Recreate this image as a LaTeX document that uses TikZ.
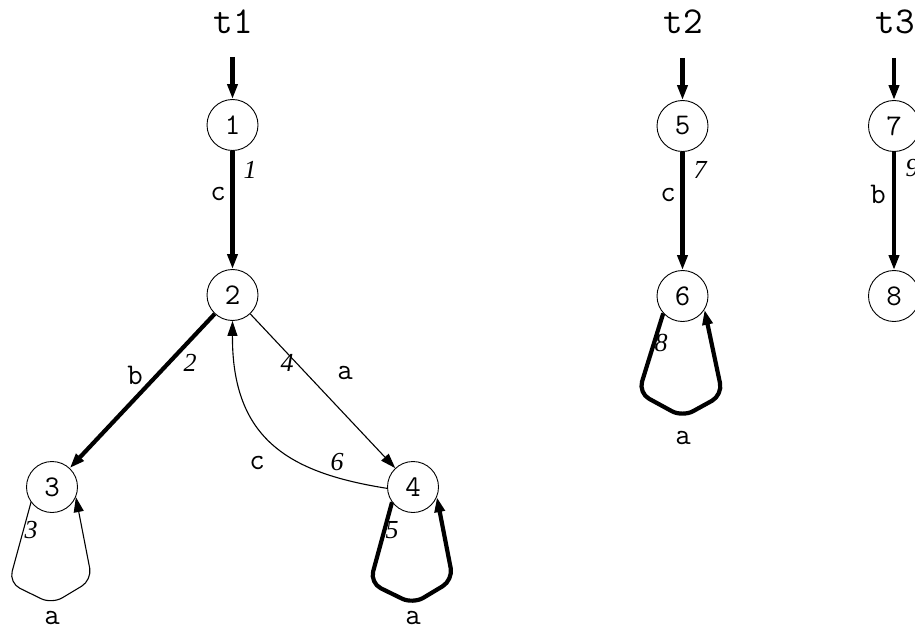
\documentclass[tikz,border=0pt]{standalone}
\usepackage{fontspec}
\setmainfont{Liberation Serif}
\usetikzlibrary{arrows.meta,calc}
\tikzset{
  state/.style={circle, draw, line width=0.9pt, minimum size=51pt, inner sep=0pt, font=\fontsize{30}{30}\selectfont\ttfamily},
  title/.style={font=\fontsize{38}{38}\selectfont\ttfamily},
  sym/.style={inner sep=1pt, font=\fontsize{30}{30}\selectfont\ttfamily},
  num/.style={inner sep=1pt, font=\fontsize{26}{26}\selectfont\itshape},
  tip/.style={-{Triangle[length=15pt,width=10pt]}},
  thickedge/.style={tip, line width=4.2pt},
  thinedge/.style={tip, line width=1.1pt},
}
\begin{document}
\begin{tikzpicture}[x=1pt,y=-1pt]
\useasboundingbox (0,0) rectangle (915,631);
\clip (0,0) rectangle (915,631);
% titles
\node[title] (t1) at (233,22) {t1};
\node[title] (t2) at (683,22) {t2};
\node[title] (t3) at (895,22) {t3};
% states
\node[state] (n1) at (232.5,125) {1};
\node[state] (n2) at (232.5,295) {2};
\node[state] (n3) at (52,487) {3};
\node[state] (n4) at (413,487) {4};
\node[state] (n5) at (682.5,126) {5};
\node[state] (n6) at (682.5,296) {6};
\node[state] (n7) at (894,126) {7};
\node[state] (n8) at (894,296) {8};
% initial arrows
\coordinate (i1) at (232.5,57);
\coordinate (i5) at (682.5,58);
\coordinate (i7) at (894,58);
\draw[thickedge] (i1) -- (n1);
\draw[thickedge] (i5) -- (n5);
\draw[thickedge] (i7) -- (n7);
% tree t1
\draw[thickedge] (n1) -- (n2);
\node[sym] (l12) at (218,194) {c};
\node[num] (k12) at (250,170) {1};
\draw[thickedge] (n2) -- (n3);
\node[sym] (l23) at (135,375) {b};
\node[num] (k23) at (190,363) {2};
\draw[thinedge] (n2) -- (n4);
\node[num] (k24) at (287,363) {4};
\node[sym] (l24) at (345,373) {a};
\draw[thinedge] (n4.183) .. controls (290,473) and (232,440) .. (n2.south);
\node[sym] (l42) at (257,463) {c};
\node[num] (k42) at (337,462) {6};
\draw[thinedge, rounded corners=12pt] (n3.216) -- ($(n3)+(-43,96)$) -- ($(n3)+(0,117)$) -- ($(n3)+(40,93)$) -- (n3.-23);
\node[num] (k33) at (31,530) {3};
\node[sym] (l33) at (52,618) {a};
\draw[thickedge, rounded corners=12pt] (n4.216) -- ($(n4)+(-43,96)$) -- ($(n4)+(0,117)$) -- ($(n4)+(40,93)$) -- (n4.-23);
\node[num] (k44) at (392,530) {5};
\node[sym] (l44) at (413,618) {a};
% tree t2
\draw[thickedge] (n5) -- (n6);
\node[sym] (l56) at (668,195) {c};
\node[num] (k56) at (700,170) {7};
\draw[thickedge, rounded corners=12pt] (n6.222) -- ($(n6)+(-44,97)$) -- ($(n6)+(0,121)$) -- ($(n6)+(40,99)$) -- (n6.-32);
\node[num] (k66) at (661,343) {8};
\node[sym] (l66) at (683,438) {a};
% tree t3
\draw[thickedge] (n7) -- (n8);
\node[sym] (l78) at (878,194) {b};
\node[num] (k78) at (912,168) {9};
\end{tikzpicture}
\end{document}
